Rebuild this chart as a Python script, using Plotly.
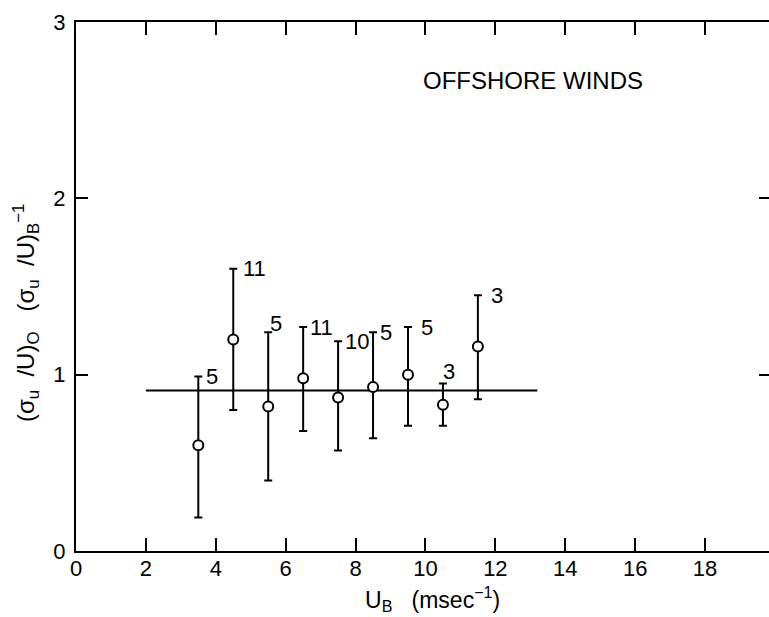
import plotly.graph_objects as go

# ---- data ----
wind_speed = [3.5, 4.5, 5.5, 6.5, 7.5, 8.5, 9.5, 10.5, 11.5]
ratio = [0.60, 1.20, 0.82, 0.98, 0.87, 0.93, 1.00, 0.83, 1.16]
ratio_upper = [0.99, 1.60, 1.24, 1.27, 1.19, 1.24, 1.27, 0.95, 1.45]
ratio_lower = [0.19, 0.80, 0.40, 0.68, 0.57, 0.64, 0.71, 0.71, 0.86]
sample_counts = ["5", "11", "5", "11", "10", "5", "5", "3", "3"]
mean_line_x = [2.0, 13.2]
mean_line_y = [0.91, 0.91]
x_tick_vals = [0, 2, 4, 6, 8, 10, 12, 14, 16, 18]
x_tick_text = ["0", "2", "4", "6", "8", "10", "12", "14", "16", "18"]
y_tick_vals = [0, 1, 2, 3]
y_tick_text = ["0", "1", "2", "3"]
panel_label = "OFFSHORE WINDS"

# ---- styling ----
FONT = "Liberation Sans, Arial, sans-serif"
label_xshift = [6, 8, 0, 5, 5, 5, 11, -2, 11]
label_yshift = [0, 0, 9, 0, 0, 0, 0, 12, 0]

err_plus = [u - v for u, v in zip(ratio_upper, ratio)]
err_minus = [v - l for v, l in zip(ratio, ratio_lower)]

fig = go.Figure()

fig.add_trace(go.Scatter(
    x=mean_line_x, y=mean_line_y, mode="lines",
    line=dict(color="black", width=2), showlegend=False, hoverinfo="skip"))

fig.add_trace(go.Scatter(
    x=wind_speed, y=ratio, mode="markers",
    marker=dict(symbol="circle", size=10, color="white",
                line=dict(color="black", width=2)),
    error_y=dict(type="data", symmetric=False, array=err_plus,
                 arrayminus=err_minus, color="black", thickness=2, width=4),
    showlegend=False))

# invisible trace for the right-hand tick axis
fig.add_trace(go.Scatter(x=[None], y=[None], yaxis="y2", showlegend=False,
                         hoverinfo="skip"))

for i, n in enumerate(sample_counts):
    fig.add_annotation(x=wind_speed[i], y=ratio_upper[i], text=n,
                       showarrow=False, xanchor="left", yanchor="middle",
                       xshift=label_xshift[i], yshift=label_yshift[i],
                       font=dict(family=FONT, size=22, color="black"))

fig.add_annotation(x=13.08, y=2.67, text=panel_label, showarrow=False,
                   xanchor="center", yanchor="middle",
                   font=dict(family=FONT, size=24, color="black"))

fig.add_annotation(xref="paper", yref="paper", x=-0.072, y=0.45,
                   text="(σ<sub>u</sub>  /U)<sub>O</sub>   (σ<sub>u</sub>  /U)<sub>B</sub><sup>−1</sup>",
                   textangle=-90, showarrow=False, xanchor="center", yanchor="middle",
                   font=dict(family=FONT, size=24, color="black"))

fig.add_annotation(xref="paper", yref="paper", x=0.515, y=-0.090,
                   text="U<sub>B</sub>   (msec<sup>−1</sup>)",
                   showarrow=False, xanchor="center", yanchor="middle",
                   font=dict(family=FONT, size=23, color="black"))

fig.update_layout(
    width=769, height=617,
    margin=dict(l=76, r=0, t=22, b=66),
    paper_bgcolor="white", plot_bgcolor="white",
    font=dict(family=FONT, size=22, color="black"),
    xaxis=dict(range=[0, 19.83], showline=True, linewidth=2, linecolor="black",
               mirror="ticks", ticks="inside", ticklen=13, tickwidth=1.5,
               tickcolor="black", tickvals=x_tick_vals, ticktext=x_tick_text,
               showgrid=False, zeroline=False, ticklabelstandoff=-3,
               tickfont=dict(family=FONT, size=22)),
    yaxis=dict(range=[0, 3], showline=True, linewidth=2, linecolor="black",
               ticks="inside", ticklen=12, tickwidth=1.5, tickcolor="black",
               tickvals=y_tick_vals, ticktext=y_tick_text, showgrid=False,
               zeroline=False, ticklabelstandoff=4,
               tickfont=dict(family=FONT, size=22)),
    yaxis2=dict(range=[0, 3], overlaying="y", side="right", anchor="x",
                showline=False, ticks="inside", ticklen=10, tickwidth=1.5,
                tickcolor="black", tickvals=[1, 2], showticklabels=False,
                showgrid=False, zeroline=False),
)

fig.write_html("out.html")
